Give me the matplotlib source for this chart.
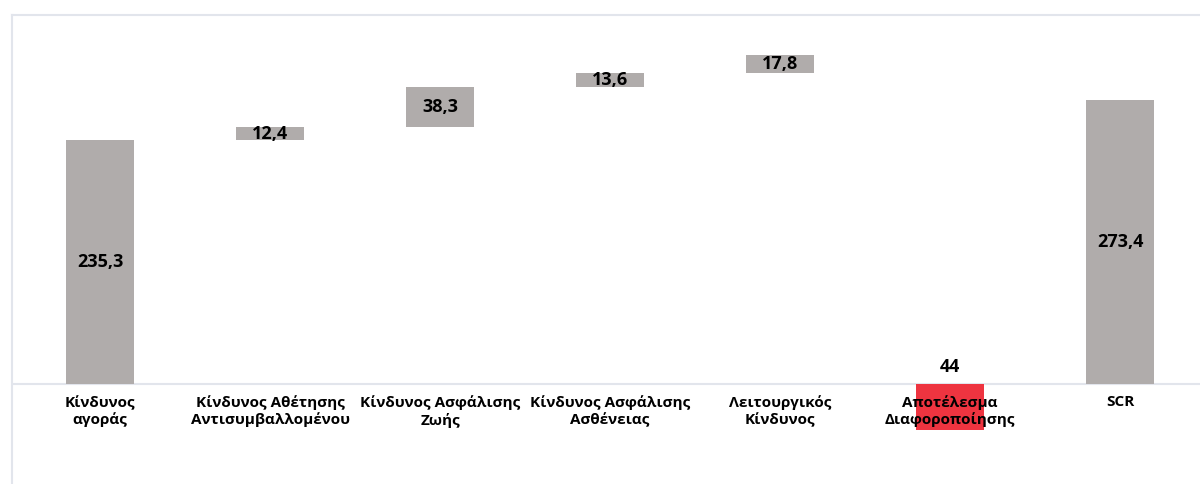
import matplotlib.pyplot as plt

plt.rcParams['font.family'] = ['Open Sans', 'Noto Sans', 'DejaVu Sans']

categories = ['Κίνδυνος\nαγοράς', 'Κίνδυνος Αθέτησης\nΑντισυμβαλλομένου', 'Κίνδυνος Ασφάλισης\nΖωής',
              'Κίνδυνος Ασφάλισης\nΑσθένειας', 'Λειτουργικός\nΚίνδυνος', 'Αποτέλεσμα\nΔιαφοροποίησης', 'SCR']
values = [235.3, 12.4, 38.3, 13.6, 17.8, -44.0, 273.4]
labels = ['235,3', '12,4', '38,3', '13,6', '17,8', '44', '273,4']

GREY = '#b0acab'
RED = '#ee3440'
FRAME = '#e2e5ec'

# waterfall bottoms
bottoms = []
running = 0
for i, v in enumerate(values):
    if i == 0 or i == len(values) - 1:
        bottoms.append(0)
        running = v
    elif v < 0:
        # the diversification bar is drawn hanging below the axis, as in the original
        bottoms.append(v)
    else:
        bottoms.append(running)
        running += v
heights = [abs(v) for v in values]
colors = [RED if v < 0 else GREY for v in values]

fig = plt.figure(figsize=(12, 4.84), dpi=100)
ax = fig.add_axes([12 / 1200, 0, 1188 / 1200, (484 - 15) / 484])

x = list(range(len(values)))
ax.bar(x, heights, bottom=bottoms, width=0.4, color=colors, zorder=2)
ax.axhline(0, color=FRAME, lw=1.5, zorder=1)

for i, v in enumerate(values):
    if v < 0:
        ypos = 16
    else:
        ypos = bottoms[i] + heights[i] / 2
    ax.text(i, ypos, labels[i], ha='center', va='center', fontsize=13, fontweight='bold', zorder=3)
    ax.text(i, -11, categories[i], ha='center', va='top', fontsize=11, fontweight='bold',
            linespacing=1.2, zorder=3)

ax.set_xlim(-0.518, 6.47)
ax.set_ylim(-96.4, 355.8)
ax.set_xticks([])
ax.set_yticks([])
for side in ['right', 'bottom']:
    ax.spines[side].set_visible(False)
for side in ['top', 'left']:
    ax.spines[side].set_color(FRAME)
    ax.spines[side].set_linewidth(1.5)

fig.savefig('out.png', dpi=100)
